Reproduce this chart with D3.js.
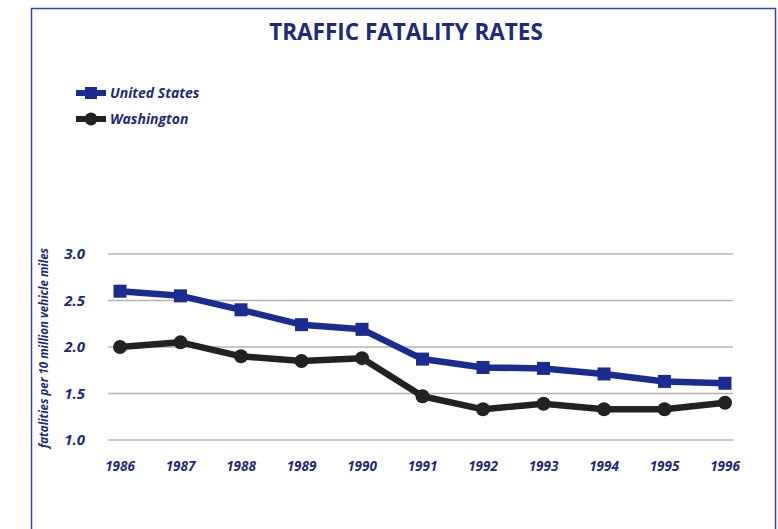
<!DOCTYPE html>
<html>
<head>
<meta charset="utf-8">
<script src="https://cdn.jsdelivr.net/npm/d3@7"></script>
<style>
  body { margin: 0; background: #fff; }
  text { font-family: "Open Sans", "Noto Sans", sans-serif; }
</style>
</head>
<body>
<div id="chart"></div>
<script>
'use strict'

var years = [1986, 1987, 1988, 1989, 1990, 1991, 1992, 1993, 1994, 1995, 1996];
var unitedStates = [2.60, 2.55, 2.40, 2.24, 2.19, 1.87, 1.78, 1.77, 1.71, 1.63, 1.61];
var washington = [2.00, 2.05, 1.90, 1.85, 1.88, 1.47, 1.33, 1.39, 1.33, 1.33, 1.40];
var yTicks = [1.0, 1.5, 2.0, 2.5, 3.0];

var navy = '#1b2c91';
var textNavy = '#1f2a78';
var black = '#222222';

var width = 778, height = 529;

var svg = d3.select('#chart').append('svg')
  .attr('width', width)
  .attr('height', height);

// frame
svg.append('rect')
  .attr('x', 31.5).attr('y', 8.5)
  .attr('width', 744).attr('height', 530)
  .attr('fill', 'none')
  .attr('stroke', '#3646a8')
  .attr('stroke-width', 1.5);

svg.append('text')
  .attr('x', 406).attr('y', 40)
  .attr('text-anchor', 'middle')
  .attr('fill', textNavy)
  .style('font-size', '22.5px')
  .style('font-weight', 700)
  .text('TRAFFIC FATALITY RATES');

var x = d3.scaleLinear()
  .domain([1986, 1996])
  .range([120, 725]);

var y = d3.scaleLinear()
  .domain([1.0, 3.0])
  .range([440, 254]);

// gridlines
svg.append('g')
  .selectAll('line')
  .data(yTicks)
  .enter()
  .append('line')
  .attr('x1', 108).attr('x2', 733)
  .attr('y1', function(d) { return y(d); })
  .attr('y2', function(d) { return y(d); })
  .attr('stroke', '#b4b4b4')
  .attr('stroke-width', 1.3);

// y labels
svg.append('g')
  .selectAll('text')
  .data(yTicks)
  .enter()
  .append('text')
  .attr('x', 85)
  .attr('y', function(d) { return y(d) + 5; })
  .attr('text-anchor', 'end')
  .attr('fill', textNavy)
  .style('font-size', '15px')
  .style('font-weight', 700)
  .style('font-style', 'italic')
  .text(function(d) { return d3.format('.1f')(d); });

svg.append('text')
  .attr('transform', 'translate(48, 348) rotate(-90)')
  .attr('text-anchor', 'middle')
  .attr('fill', textNavy)
  .style('font-size', '11.5px')
  .style('font-weight', 700)
  .style('font-style', 'italic')
  .text('fatalities per 10 million vehicle miles');

// x labels
svg.append('g')
  .selectAll('text')
  .data(years)
  .enter()
  .append('text')
  .attr('x', function(d) { return x(d); })
  .attr('y', 471)
  .attr('text-anchor', 'middle')
  .attr('fill', textNavy)
  .style('font-size', '13.5px')
  .style('font-weight', 700)
  .style('font-style', 'italic')
  .text(function(d) { return d; });

var line = d3.line()
  .x(function(d, i) { return x(years[i]); })
  .y(function(d) { return y(d); });

svg.append('path')
  .datum(unitedStates)
  .attr('d', line)
  .attr('fill', 'none')
  .attr('stroke', navy)
  .attr('stroke-width', 6.5)
  .attr('stroke-linejoin', 'round');

svg.append('g')
  .selectAll('rect')
  .data(unitedStates)
  .enter()
  .append('rect')
  .attr('x', function(d, i) { return x(years[i]) - 6.5; })
  .attr('y', function(d) { return y(d) - 6.5; })
  .attr('width', 13).attr('height', 13)
  .attr('fill', navy);

svg.append('path')
  .datum(washington)
  .attr('d', line)
  .attr('fill', 'none')
  .attr('stroke', black)
  .attr('stroke-width', 6.5)
  .attr('stroke-linejoin', 'round');

svg.append('g')
  .selectAll('circle')
  .data(washington)
  .enter()
  .append('circle')
  .attr('cx', function(d, i) { return x(years[i]); })
  .attr('cy', function(d) { return y(d); })
  .attr('r', 7)
  .attr('fill', black);

// legend
var legend = [
  { name: 'United States', color: navy, shape: 'square' },
  { name: 'Washington', color: black, shape: 'circle' }
];

var lg = svg.append('g')
  .selectAll('g')
  .data(legend)
  .enter()
  .append('g')
  .attr('transform', function(d, i) { return 'translate(76, ' + (93 + i * 26) + ')'; });

lg.append('line')
  .attr('x1', 0).attr('x2', 30)
  .attr('y1', 0).attr('y2', 0)
  .attr('stroke', function(d) { return d.color; })
  .attr('stroke-width', 6);

lg.each(function(d) {
  var g = d3.select(this);
  if (d.shape === 'square') {
    g.append('rect').attr('x', 9).attr('y', -6).attr('width', 12).attr('height', 12).attr('fill', d.color);
  } else {
    g.append('circle').attr('cx', 15).attr('cy', 0).attr('r', 6.5).attr('fill', d.color);
  }
});

lg.append('text')
  .attr('x', 34).attr('y', 5)
  .attr('fill', textNavy)
  .style('font-size', '14px')
  .style('font-weight', 700)
  .style('font-style', 'italic')
  .text(function(d) { return d.name; });
</script>
</body>
</html>
